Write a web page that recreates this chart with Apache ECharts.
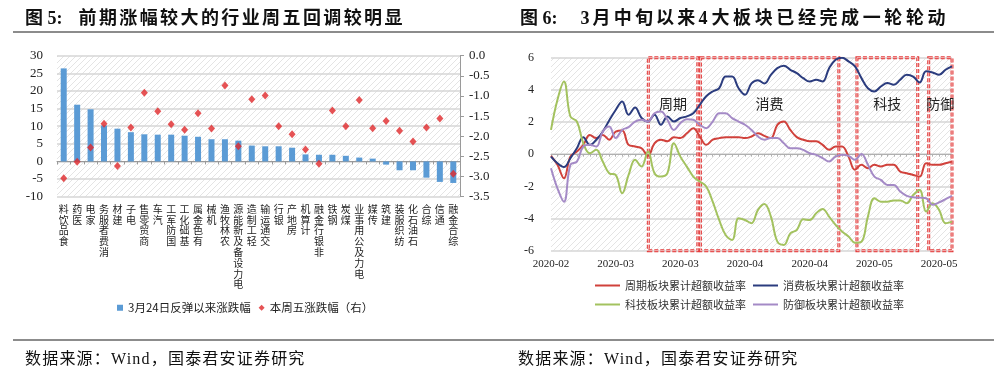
<!DOCTYPE html>
<html>
<head>
<meta charset="utf-8">
<script src="https://cdn.jsdelivr.net/npm/echarts@6/dist/echarts.min.js"></script>
<style>
  html, body { margin: 0; padding: 0; background: #fff; }
  #wrap { position: relative; width: 1004px; height: 378px; overflow: hidden; }
  #chart { position: absolute; left: 0; top: 0; width: 1004px; height: 378px; }
  .t { position: absolute; font-family: "Liberation Serif", "Noto Sans CJK SC", serif; font-weight: bold; font-size: 18px; color: #111; white-space: pre; line-height: 20px; }
  .src { position: absolute; font-family: "Liberation Serif", "Noto Sans CJK SC", serif; font-size: 16px; color: #111; white-space: pre; letter-spacing: 1.2px; line-height: 18px; }
  .hl { position: absolute; height: 2px; background: #8c8c8c; }
  .cjk { font-family: "Noto Sans CJK SC", sans-serif; }
</style>
</head>
<body>
<div id="wrap">
  <div id="chart"></div>
  <div class="t" style="left:25px;top:6px;"><span class="cjk">图</span> 5:<span class="cjk" style="margin-left:16px;letter-spacing:2.4px;">前期涨幅较大的行业周五回调较明显</span></div>
  <div class="t" style="left:520px;top:6px;"><span class="cjk">图</span> 6:<span style="margin-left:23px;">3</span><span class="cjk" style="letter-spacing:3.2px;margin-left:3px;">月中旬以来</span>4<span class="cjk" style="letter-spacing:3.6px;margin-left:4px;">大板块已经完成一轮轮动</span></div>
  <div class="hl" style="left:13px;top:31px;width:487px;"></div>
  <div class="hl" style="left:500px;top:31px;width:494px;"></div>
  <div class="hl" style="left:13px;top:339px;width:487px;"></div>
  <div class="hl" style="left:500px;top:339px;width:494px;"></div>
  <div class="src" style="left:25px;top:348px;"><span class="cjk">数据来源：</span>Wind<span class="cjk">，国泰君安证券研究</span></div>
  <div class="src" style="left:518px;top:348px;"><span class="cjk">数据来源：</span>Wind<span class="cjk">，国泰君安证券研究</span></div>
</div>
<script>
// ---------- Chart 1 data ----------
const industries = ['食品饮料','医药','家电','消费者服务','建材','电子','商贸零售','汽车','国防军工','基础化工','有色金属','机械','农林牧渔','电力设备及新能源','轻工制造','交通运输','银行','房地产','计算机','非银行金融','钢铁','煤炭','电力及公用事业','传媒','建筑','纺织服装','石油石化','综合','通信','综合金融'];
const reboundSince0324 = [26.4,16.1,14.8,10.2,9.3,8.3,7.7,7.6,7.6,7.3,7.0,6.3,6.3,5.9,4.5,4.3,4.3,3.9,2.0,1.9,1.9,1.6,1.1,0.8,-0.9,-2.5,-2.5,-4.6,-5.8,-6.1];
const fridayChange = [-3.04,-2.63,-2.28,-1.69,-2.74,-1.78,-0.92,-1.38,-1.70,-1.84,-1.43,-1.81,-0.74,-2.25,-1.08,-0.99,-1.75,-1.95,-2.33,-2.68,-1.36,-1.75,-1.10,-1.80,-1.62,-1.86,-2.13,-1.78,-1.56,-2.93];
const leftTicks = { min: -10, max: 30, interval: 5 };
const rightTicks = { min: -3.5, max: 0, interval: 0.5 };

// ---------- Chart 2 data ----------
const dates = ['2020-02-20','2020-02-21','2020-02-24','2020-02-25','2020-02-26','2020-02-27','2020-02-28',
 '2020-03-02','2020-03-03','2020-03-04','2020-03-05','2020-03-06','2020-03-09','2020-03-10','2020-03-11','2020-03-12','2020-03-13','2020-03-16','2020-03-17','2020-03-18','2020-03-19','2020-03-20','2020-03-23','2020-03-24','2020-03-25','2020-03-26','2020-03-27','2020-03-30','2020-03-31',
 '2020-04-01','2020-04-02','2020-04-03','2020-04-07','2020-04-08','2020-04-09','2020-04-10','2020-04-13','2020-04-14','2020-04-15','2020-04-16','2020-04-17','2020-04-20','2020-04-21','2020-04-22','2020-04-23','2020-04-24','2020-04-27','2020-04-28','2020-04-29','2020-04-30',
 '2020-05-06','2020-05-07','2020-05-08','2020-05-11','2020-05-12','2020-05-13','2020-05-14','2020-05-15','2020-05-18','2020-05-19','2020-05-20','2020-05-21','2020-05-22'];
const cyclical = [-0.1,-0.66,-1.5,-0.15,0.17,0.58,1.2,1.0,1.2,0.9,1.4,1.47,0.58,0.48,0.37,-0.1,0.68,0.9,0.8,1.06,1.0,1.3,1.62,1.1,0.58,0.9,1.0,1.06,1.06,1.06,1.0,1.1,1.3,1.14,1.0,1.83,2.03,1.51,1.06,0.9,0.8,0.8,0.58,0.27,0.48,0.48,-0.15,-0.97,-0.66,-0.87,-0.66,-0.77,-0.66,-0.66,-1.08,-1.18,-1.29,-1.39,-0.56,-0.66,-0.66,-0.56,-0.46];
const consumer = [-0.15,-0.56,-0.8,-0.25,0.37,1.06,0.58,0.9,1.4,2.1,2.75,3.28,2.45,2.9,2.25,2.03,2.45,1.83,2.35,2.03,2.25,2.35,2.55,3.07,3.6,3.9,4.1,4.83,4.83,4.1,3.7,4.4,4.6,4.4,4.93,5.35,5.5,5.25,5.04,4.73,4.52,4.63,4.52,5.35,5.87,6.0,5.77,5.46,4.73,4.1,3.9,4.21,4.42,4.32,4.63,4.94,4.83,4.46,5.15,5.08,4.94,5.25,5.46];
const technology = [1.51,3.38,4.52,2.34,2.03,0.68,0.06,0.27,-0.46,-1.18,-1.29,-2.43,-1.29,-0.35,-0.77,0.17,-1.18,-1.39,-1.18,0.68,-0.15,-0.77,-1.39,-1.7,-2.01,-2.95,-4.09,-5.02,-5.33,-3.98,-4.09,-4.29,-3.46,-3.09,-3.88,-5.44,-5.64,-4.92,-4.71,-4.05,-4.09,-3.67,-3.4,-3.88,-4.4,-4.81,-5.12,-5.5,-5.44,-3.88,-2.74,-2.95,-2.95,-2.88,-2.88,-3.05,-2.53,-2.22,-3.57,-3.05,-3.46,-4.29,-4.19];
const defensive = [-0.87,-2.12,-2.95,-0.66,-0.46,0.48,0.58,0.48,1.4,1.72,1.0,1.51,1.68,2.03,2.14,2.03,2.55,2.66,2.14,1.51,1.93,2.18,2.14,1.83,1.62,2.03,2.55,2.55,2.24,2.03,1.83,1.51,1.1,0.9,1.0,1.0,0.68,0.37,0.37,0.27,0.06,-0.04,-0.25,-0.46,-0.15,-0.04,-0.1,-0.35,0.02,-0.66,-1.39,-1.6,-1.91,-1.91,-2.32,-2.59,-2.68,-2.7,-2.74,-3.15,-3.0,-2.8,-2.59];
// rotation periods, as positions along the trading-day index
const periods = [
  { name: '周期', from: 15.05, to: 22.7 },
  { name: '消费', from: 23.1, to: 44.5 },
  { name: '科技', from: 47.3, to: 56.7 },
  { name: '防御', from: 58.4, to: 62 }
];
const sectorNames = ['周期板块累计超额收益率','消费板块累计超额收益率','科技板块累计超额收益率','防御板块累计超额收益率'];
const sectorColors = ['#d0413b','#2b3c7e','#a3c25f','#a48ac6'];

function hatch() {
  const c = document.createElement('canvas');
  c.width = 6; c.height = 6;
  const g = c.getContext('2d');
  g.fillStyle = '#ffffff'; g.fillRect(0, 0, 6, 6);
  g.strokeStyle = '#e4e4e4'; g.lineWidth = 1;
  g.beginPath();
  g.moveTo(0, 6); g.lineTo(6, 0);
  g.moveTo(-1, 1); g.lineTo(1, -1);
  g.moveTo(5, 7); g.lineTo(7, 5);
  g.stroke();
  return c;
}
const pat = { image: hatch(), repeat: 'repeat' };
const serif = 'Liberation Serif';
const cjk = 'Noto Sans CJK SC';
const gridLine = { show: true, lineStyle: { color: '#d6d6d6', width: 1.5 } };

function boxSeries(color, width, withLabel) {
  return { type: 'line', xAxisIndex: 4, yAxisIndex: 2, data: [], silent: true, z: 4,
    markArea: { silent: true,
      itemStyle: { color: 'rgba(0,0,0,0)', borderColor: color, borderWidth: width, borderType: [4, 2] },
      label: { show: withLabel, position: 'insideTop', distance: 40, fontFamily: cjk, fontSize: 14, color: '#222' },
      data: periods.map(p => [{ name: p.name, xAxis: p.from, yAxis: 6 }, { xAxis: p.to, yAxis: -6 }]) } };
}

const chart = echarts.init(document.getElementById('chart'), null, { renderer: 'canvas' });
chart.setOption({
  animation: false,
  grid: [
    { left: 57, top: 55.7, width: 403, height: 141, show: true, backgroundColor: pat, borderWidth: 0 },
    { left: 551, top: 57.7, width: 401, height: 193, show: true, backgroundColor: pat, borderWidth: 0 }
  ],
  legend: [
    { left: 117, top: 302, padding: 0, itemWidth: 6, itemHeight: 6, itemGap: 8,
      textStyle: { fontFamily: cjk, fontSize: 11.5, color: '#222' },
      data: [{ name: '3月24日反弹以来涨跌幅', icon: 'rect' }, { name: '本周五涨跌幅（右）', icon: 'diamond' }] },
    { left: 595, top: 280, padding: 0, itemWidth: 25, itemHeight: 2, itemGap: 7, icon: 'rect',
      textStyle: { fontFamily: cjk, fontSize: 11, color: '#333' }, data: sectorNames.slice(0, 2) },
    { left: 595, top: 299, padding: 0, itemWidth: 25, itemHeight: 2, itemGap: 7, icon: 'rect',
      textStyle: { fontFamily: cjk, fontSize: 11, color: '#333' }, data: sectorNames.slice(2, 4) }
  ],
  xAxis: [
    { gridIndex: 0, type: 'category', data: industries, position: 'bottom',
      axisLine: { show: false, onZero: false }, axisTick: { show: false },
      axisLabel: { interval: 0, margin: 7, rotate: 0, hideOverlap: false,
        width: 10, overflow: 'breakAll',
        fontFamily: cjk, fontSize: 10, lineHeight: 10.8, color: '#222',
        formatter: v => v.split('').reverse().join('') } },
    { gridIndex: 0, type: 'category', data: industries, position: 'bottom',
      axisLine: { show: true, onZero: true, lineStyle: { color: '#9a9a9a', width: 1 } },
      axisTick: { show: true, interval: 0, length: 3, lineStyle: { color: '#9a9a9a' } },
      axisLabel: { show: false } },
    { gridIndex: 1, type: 'category', data: dates, boundaryGap: false, position: 'bottom',
      axisLine: { show: false, onZero: false }, axisTick: { show: false },
      axisLabel: { interval: 9, margin: 8, fontFamily: serif, fontSize: 11, color: '#222',
        formatter: v => v.slice(0, 7) } },
    { gridIndex: 1, type: 'category', data: dates, boundaryGap: false, position: 'bottom',
      axisLine: { show: true, onZero: true, lineStyle: { color: '#b0b0b0', width: 1 } },
      axisTick: { show: true, interval: 0, length: 2.5, lineStyle: { color: '#b0b0b0' } },
      axisLabel: { show: false } },
    { gridIndex: 1, type: 'value', min: 0, max: dates.length - 1, show: false }
  ],
  yAxis: [
    { gridIndex: 0, type: 'value', min: leftTicks.min, max: leftTicks.max, interval: leftTicks.interval,
      axisLine: { show: false, onZero: false }, axisTick: { show: false },
      axisLabel: { margin: 14, fontFamily: serif, fontSize: 13, color: '#222' }, splitLine: gridLine },
    { gridIndex: 0, type: 'value', position: 'right', min: rightTicks.min, max: rightTicks.max, interval: rightTicks.interval,
      axisLine: { show: true, onZero: false, lineStyle: { color: '#9a9a9a' } },
      axisTick: { show: true, length: 4, lineStyle: { color: '#9a9a9a' } },
      axisLabel: { margin: 9, fontFamily: serif, fontSize: 13, color: '#222', formatter: v => v.toFixed(1) },
      splitLine: { show: false } },
    { gridIndex: 1, type: 'value', min: -6, max: 6, interval: 2,
      axisLine: { show: false, onZero: false }, axisTick: { show: false },
      axisLabel: { margin: 17, fontFamily: serif, fontSize: 12, color: '#222' }, splitLine: gridLine }
  ],
  series: [
    { name: '3月24日反弹以来涨跌幅', type: 'bar', xAxisIndex: 0, yAxisIndex: 0, data: reboundSince0324,
      barWidth: 6, itemStyle: { color: '#5b9bd5' } },
    { name: '本周五涨跌幅（右）', type: 'scatter', xAxisIndex: 0, yAxisIndex: 1, data: fridayChange,
      symbol: 'diamond', symbolSize: [7, 8], itemStyle: { color: '#e0282a' } },
    ...[cyclical, consumer, technology, defensive].map((d, i) => ({
      name: sectorNames[i], type: 'line', xAxisIndex: 2, yAxisIndex: 2, data: d,
      smooth: 0.4, showSymbol: false, lineStyle: { width: 2, color: sectorColors[i] },
      itemStyle: { color: sectorColors[i] }, z: 3
    })),
    boxSeries('#e33b3b', 3, true),
    boxSeries('rgba(255,255,255,0.85)', 0.8, false)
  ]
});
</script>
</body>
</html>
